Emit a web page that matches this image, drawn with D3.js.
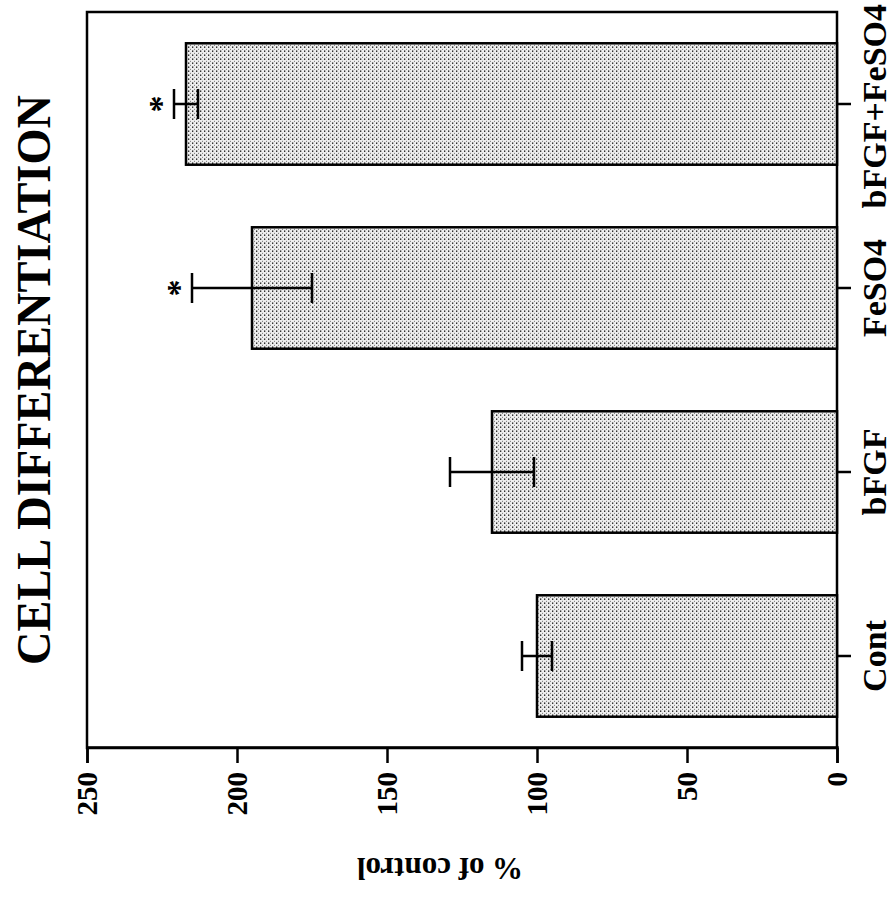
<!DOCTYPE html>
<html>
<head>
<meta charset="utf-8">
<script src="https://cdn.jsdelivr.net/npm/d3@7"></script>
<style>
body { margin: 0; background: #fff; }
svg text { font-family: "Liberation Serif", "Times New Roman", serif; fill: #000; }
</style>
</head>
<body>
<div id="chart"></div>
<script>
var categories = ["Cont", "bFGF", "FeSO4", "bFGF+FeSO4"];
var values = [100, 115, 195, 217];
var errors = [5, 14, 20, 4];
var stars = ["", "", "*", "*"];
var yTicks = [0, 50, 100, 150, 200, 250];
var titleText = "CELL DIFFERENTIATION";
var yLabel = "% of control";

var W = 894, H = 908;
// the figure is printed on its side: draw it upright then turn it -90deg
var svg = d3.select("#chart").append("svg").attr("width", W).attr("height", H);

var pat = svg.append("defs").append("pattern")
	.attr("id", "dots").attr("patternUnits", "userSpaceOnUse")
	.attr("width", 4).attr("height", 4);
pat.append("rect").attr("width", 4).attr("height", 4).attr("fill", "#eeeeee");
pat.append("rect").attr("x", 0).attr("y", 0).attr("width", 1.6).attr("height", 1.3).attr("fill", "#333");
pat.append("rect").attr("x", 2).attr("y", 2).attr("width", 1.2).attr("height", 1).attr("fill", "#888");

var g = svg.append("g").attr("transform", "translate(0," + H + ") rotate(-90)");

var plotL = 160, plotR = 896, plotT = 87, plotB = 837;

var x = d3.scaleBand().domain(categories).range([plotL, plotR]).paddingInner(0.34).paddingOuter(0.17);
var y = d3.scaleLinear().domain([0, 250]).range([plotB, plotT]);

// frame
g.append("rect").attr("x", plotL).attr("y", plotT).attr("width", plotR - plotL).attr("height", plotB - plotT)
	.attr("fill", "none").attr("stroke", "#000").attr("stroke-width", 2.5);

// bars
g.selectAll(".bar").data(categories).enter().append("rect")
	.attr("class", "bar")
	.attr("x", function(d) { return x(d); })
	.attr("width", x.bandwidth())
	.attr("y", function(d, i) { return y(values[i]); })
	.attr("height", function(d, i) { return y(0) - y(values[i]); })
	.attr("fill", "url(#dots)").attr("stroke", "#000").attr("stroke-width", 2.5);

// error bars
var cap = 15;
g.selectAll(".err").data(categories).enter().append("path")
	.attr("class", "err")
	.attr("d", function(d, i) {
		var cx = x(d) + x.bandwidth() / 2;
		var hi = y(values[i] + errors[i]), lo = y(values[i] - errors[i]);
		return "M" + cx + "," + hi + "V" + lo +
			"M" + (cx - cap) + "," + hi + "H" + (cx + cap) +
			"M" + (cx - cap) + "," + lo + "H" + (cx + cap);
	})
	.attr("fill", "none").attr("stroke", "#000").attr("stroke-width", 2.5);

g.selectAll(".star").data(categories).enter().append("text")
	.attr("class", "star")
	.attr("x", function(d) { return x(d) + x.bandwidth() / 2; })
	.attr("y", function(d, i) { return y(values[i] + errors[i]) - 21; })
	.attr("dy", "0.55em")
	.attr("text-anchor", "middle")
	.style("font-size", "34px").style("font-weight", "bold")
	.text(function(d, i) { return stars[i]; });

// value axis (ends up along the bottom)
var yAxis = g.append("g").attr("transform", "translate(" + plotL + ",0)")
	.call(d3.axisLeft(y).tickValues(yTicks).tickSize(15).tickPadding(9));
yAxis.select(".domain").attr("stroke-width", 2.5);
yAxis.selectAll(".tick line").attr("stroke-width", 2.5);
yAxis.selectAll(".tick text")
	.style("font-size", "29px").style("font-weight", "bold")
	.style("font-family", "'Liberation Serif', serif");

// category axis (ends up on the right)
var xAxis = g.append("g").attr("transform", "translate(0," + plotB + ")")
	.call(d3.axisBottom(x).tickSize(14).tickPadding(11).tickSizeOuter(0));
xAxis.select(".domain").remove();
xAxis.selectAll(".tick line").attr("stroke-width", 2.5);
xAxis.selectAll(".tick text")
	.style("font-size", "34px").style("font-weight", "bold")
	.style("font-family", "'Liberation Serif', serif");
// keep the long label inside the page edge
xAxis.selectAll(".tick text").each(function() {
	var t = d3.select(this);
	var half = this.getComputedTextLength() / 2;
	var cx = x(this.__data__) + x.bandwidth() / 2;
	if (cx + half > H - 4) t.attr("x", (H - 4) - (cx + half));
});

// title
g.append("text")
	.attr("x", (plotL + plotR) / 2).attr("y", 50)
	.attr("text-anchor", "middle")
	.attr("textLength", 570).attr("lengthAdjust", "spacingAndGlyphs")
	.style("font-size", "48px").style("font-weight", "bold")
	.text(titleText);

// axis label
g.append("text")
	.attr("transform", "translate(50,440) rotate(-90)")
	.attr("text-anchor", "middle")
	.style("font-size", "31px").style("font-weight", "bold")
	.text(yLabel);
</script>
</body>
</html>
